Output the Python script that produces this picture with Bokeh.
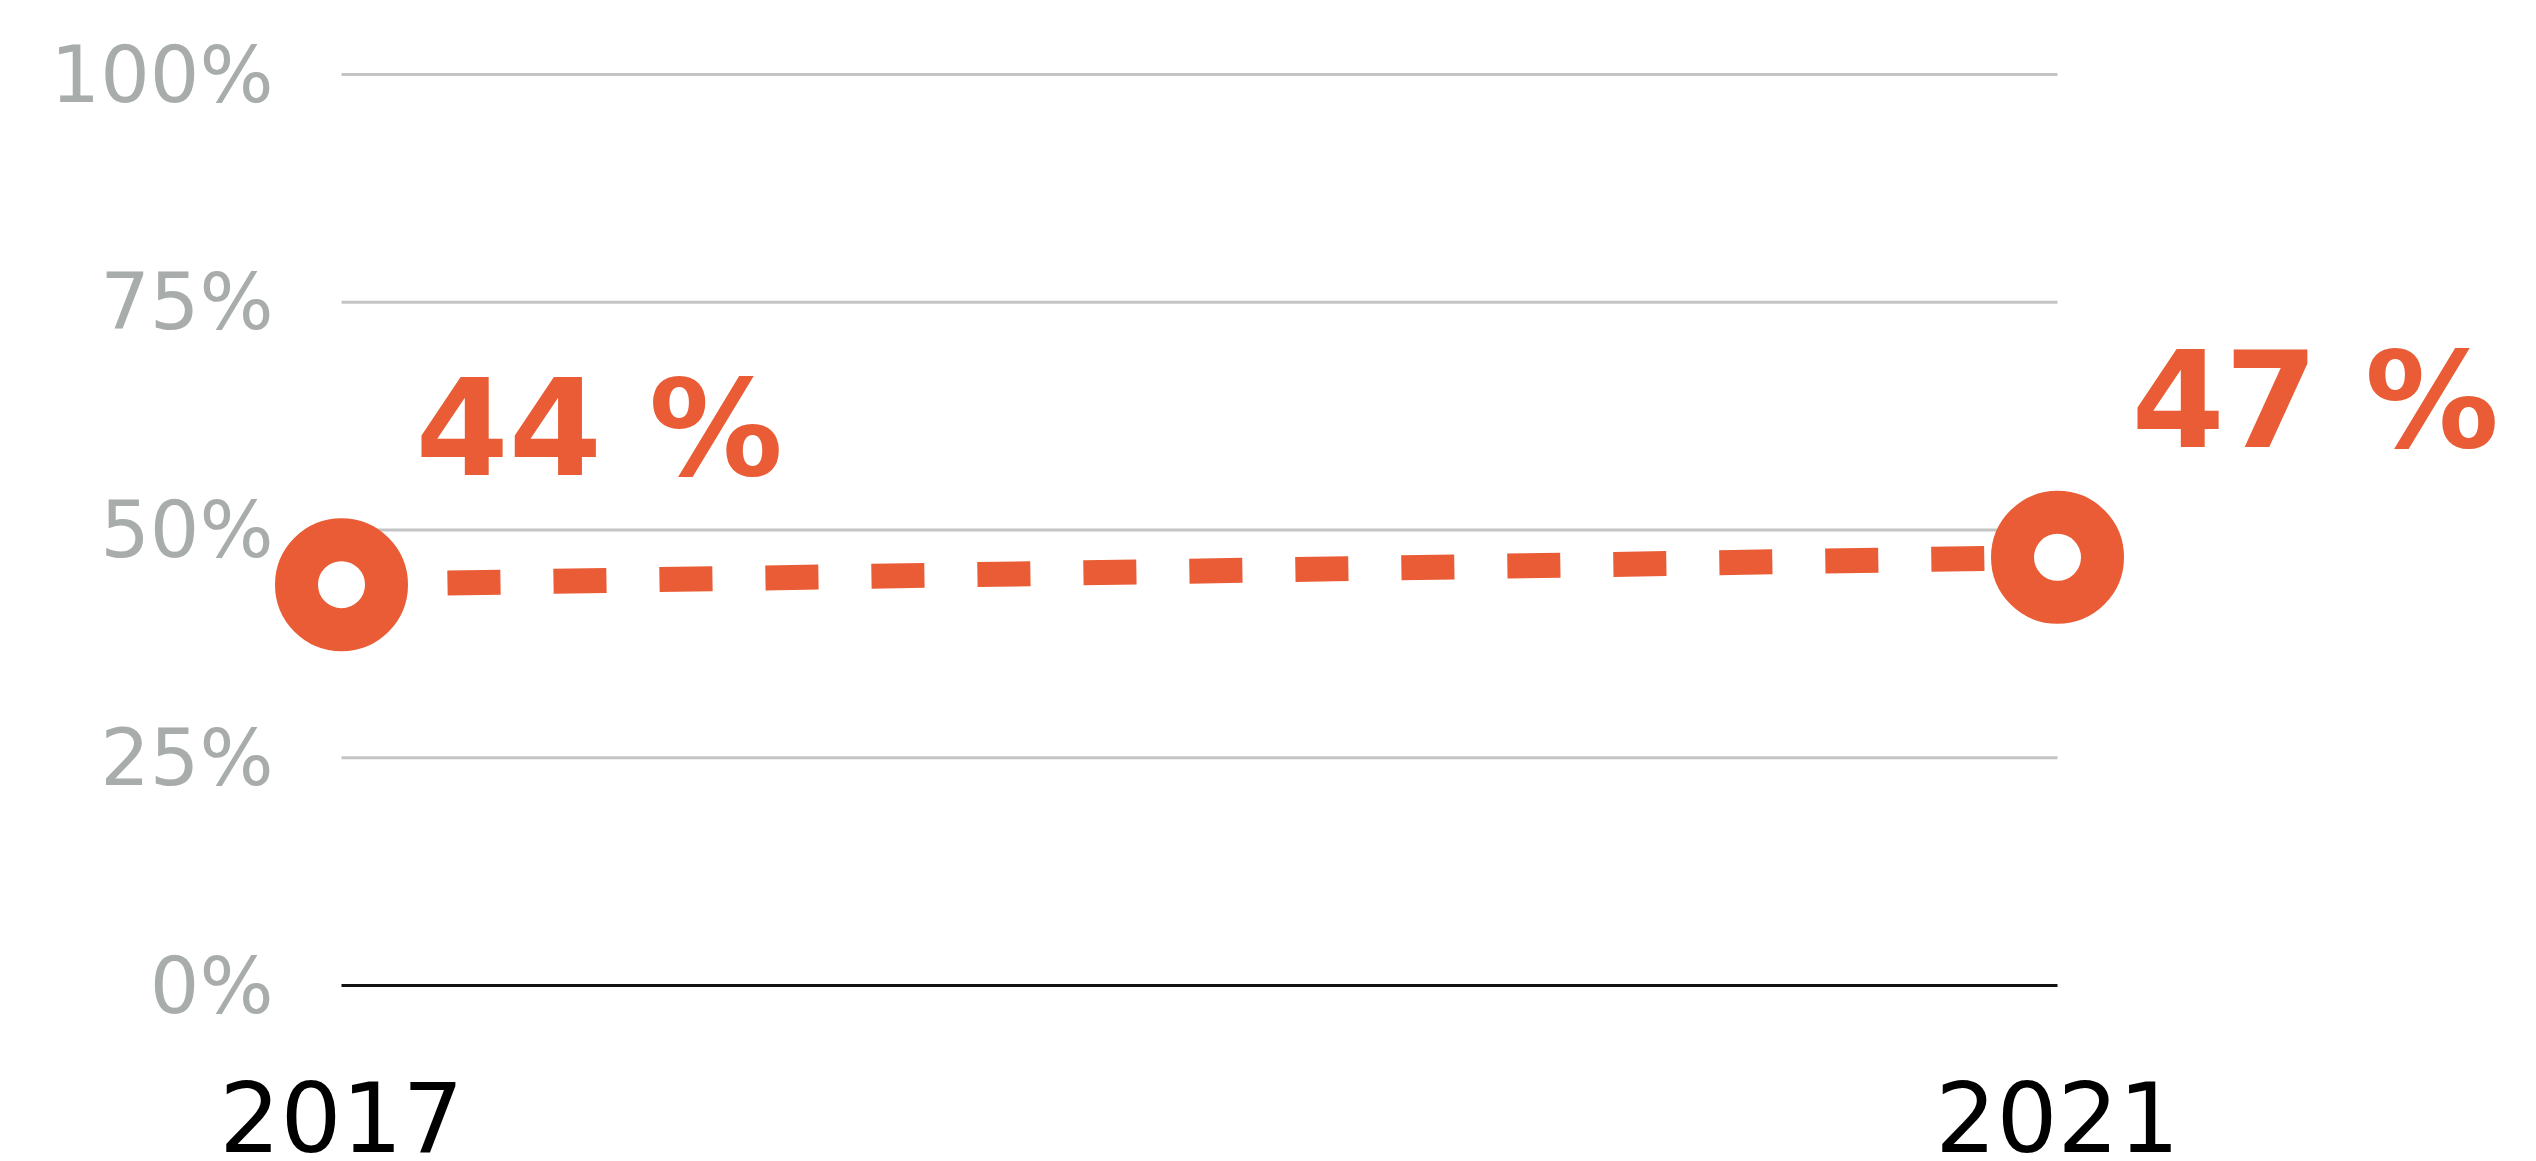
from bokeh.plotting import figure
from bokeh.models import Range1d, FixedTicker, ColumnDataSource, LabelSet
from bokeh.core.properties import value
from bokeh.embed import file_html
from bokeh.resources import INLINE

# ---- data ----
years = [2017, 2021]
shares = [44, 47]
value_labels = ["44 %", "47 %"]
year_labels = ["2017", "2021"]
y_ticks = [0, 25, 50, 75, 100]
y_tick_labels = ["0%", "25%", "50%", "75%", "100%"]

ORANGE = "#E95C35"
GRAY = "#A8ADAB"

W, H = 2520, 1156
BL, BT = 200, 8
LABEL_RIGHT = 273
# pixel geometry of the reference
x_first_px, x_last_px = 341, 2057
y0_px, y100_px = 985, 74
ppx = (x_last_px - x_first_px) / (years[-1] - years[0])
ppy = (y0_px - y100_px) / 100.0
frame_l, frame_r = BL, W
frame_t, frame_b = BT, H

x_start = years[0] - (x_first_px - frame_l) / ppx
x_end = years[-1] + (frame_r - x_last_px) / ppx
y_start = -(frame_b - y0_px) / ppy
y_end = (y0_px - frame_t) / ppy

p = figure(width=W, height=H, output_backend="svg", toolbar_location=None,
           x_range=Range1d(x_start, x_end), y_range=Range1d(y_start, y_end),
           min_border_left=BL, min_border_right=0, min_border_top=BT, min_border_bottom=0,
           x_axis_location=None)
p.outline_line_color = None
p.xgrid.visible = False
p.ygrid.visible = False

# y axis (labels only)
yax = p.yaxis[0]
yax.ticker = FixedTicker(ticks=y_ticks)
yax.major_label_overrides = {t: l for t, l in zip(y_ticks, y_tick_labels)}
yax.axis_line_color = None
yax.major_tick_line_color = None
yax.minor_tick_line_color = None
yax.major_tick_in = 0
yax.major_tick_out = 0
yax.major_label_standoff = BL - LABEL_RIGHT
yax.major_label_text_font = "DejaVu Sans"
yax.major_label_text_font_size = "78px"
yax.major_label_text_color = GRAY

# gridlines spanning first..last year
grid_src = ColumnDataSource(dict(x0=[years[0]] * 4, x1=[years[-1]] * 4, y=y_ticks[1:]))
p.segment(x0="x0", x1="x1", y0="y", y1="y", source=grid_src, line_color="#C4C4C4", line_width=3)
# baseline
p.segment(x0=[years[0]], x1=[years[-1]], y0=[0], y1=[0], line_color="#111111", line_width=3)

# dashed connecting line
p.line(years, shares, line_color=ORANGE, line_width=25, line_dash="53 53", line_cap="butt")

# ring markers
p.scatter(years, shares, marker="circle", size=90, fill_color="white",
          line_color=ORANGE, line_width=43)

# value labels
p.text(x=years, y=shares, text=value_labels, text_font=value("DejaVu Sans"),
       text_font_style="bold", text_font_size="134px", text_color=ORANGE,
       text_align="left", text_baseline="alphabetic", x_offset=74, y_offset=-156)

# x tick labels
xl_src = ColumnDataSource(dict(x=years, y=[0] * len(years), t=year_labels))
p.add_layout(LabelSet(x="x", y="y", text="t", source=xl_src,
                      text_font=value("DejaVu Sans"), text_font_size="96px",
                      text_color="black", text_align="center",
                      text_baseline="alphabetic", y_offset=-166))

open("out.html", "w").write(file_html(p, INLINE))
